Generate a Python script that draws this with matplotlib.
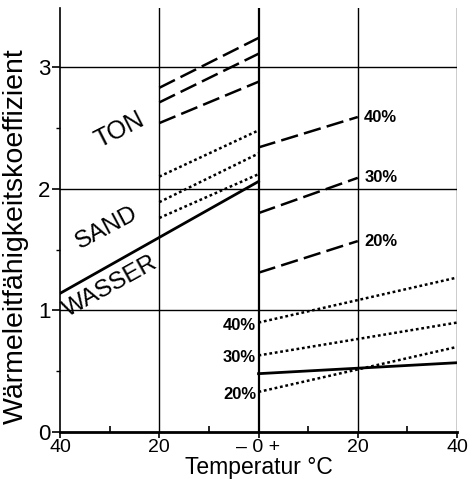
import matplotlib.pyplot as plt
from matplotlib.ticker import MultipleLocator

#Data (left half = frozen, right half = thawed)
x_frozen = [-20, 0]
x_water_frozen = [-40, 0]
x_ton_thawed = [0, 20]
x_thawed = [0, 40]

ton_frozen = [[2.83, 3.24], [2.71, 3.11], [2.54, 2.88]]
sand_frozen = [[2.10, 2.48], [1.89, 2.29], [1.76, 2.12]]
water_frozen = [1.14, 2.06]

ton_thawed = [[2.34, 2.59], [1.80, 2.09], [1.31, 1.57]]
sand_thawed = [[0.90, 1.27], [0.63, 0.90], [0.33, 0.70]]
water_thawed = [0.48, 0.57]

moisture = ["40%", "30%", "20%"]
tick_pos = [-40, -20, 0, 20, 40]
tick_labels = ["40", "20", "\u2013 0 +", "20", "40"]

plt.rcParams['font.family'] = ['Liberation Sans', 'DejaVu Sans']

fig = plt.figure(figsize=(4.74, 4.79), dpi=100)
ax = fig.add_axes([0.1266, 0.098, 0.8376, 0.885])

dash = (0, (7, 2.5))
dot = (0, (1.1, 1.1))
lw = 1.8
pct_font = ['Liberation Sans Narrow', 'Liberation Sans']

#grid lines
for y in [1, 2, 3]:
    ax.axhline(y, color='black', lw=1.0, zorder=1)
for x in [-20, 20, 40]:
    ax.axvline(x, color='black', lw=1.0, zorder=1)
ax.axvline(0, color='black', lw=1.6, zorder=1)

#frozen side
for vals in ton_frozen:
    ax.plot(x_frozen, vals, color='black', lw=lw, linestyle=dash)
for vals in sand_frozen:
    ax.plot(x_frozen, vals, color='black', lw=lw, linestyle=dot)
ax.plot(x_water_frozen, water_frozen, color='black', lw=2.0)

#thawed side
for vals, lab in zip(ton_thawed, moisture):
    ax.plot(x_ton_thawed, vals, color='black', lw=lw, linestyle=dash)
    ax.text(x_ton_thawed[1] + 1.3, vals[1], lab, fontsize=12, fontweight='bold',
            family=pct_font, ha='left', va='center')
for vals, lab in zip(sand_thawed, moisture):
    ax.plot(x_thawed, vals, color='black', lw=lw, linestyle=dot)
    ax.text(-0.5, vals[0] - 0.02, lab, fontsize=12, fontweight='bold',
            family=pct_font, ha='right', va='center')
ax.plot(x_thawed, water_thawed, color='black', lw=2.0)

#material labels
ax.text(-27.9, 2.48, "TON", fontsize=18, rotation=27, ha='center', va='center')
ax.text(-30.5, 1.68, "SAND", fontsize=17.5, rotation=28, ha='center', va='center')
ax.text(-29.8, 1.20, "WASSER", fontsize=17.5, rotation=29, ha='center', va='center')

ax.set_xlim(-40, 40)
ax.set_ylim(0, 3.485)
ax.set_xticks(tick_pos)
ax.set_xticklabels(tick_labels, fontsize=14)
ax.set_yticks([0, 1, 2, 3])
ax.set_yticklabels(["0", "1", "2", "3"], fontsize=16)
ax.xaxis.set_minor_locator(MultipleLocator(10))
ax.yaxis.set_minor_locator(MultipleLocator(0.5))
ax.tick_params(axis='x', which='major', direction='out', length=4, width=1.2, pad=1)
ax.tick_params(axis='x', which='minor', direction='in', length=4, width=1.2)
ax.tick_params(axis='y', which='major', direction='out', length=6, width=1.2, pad=1)
ax.tick_params(axis='y', which='minor', direction='out', length=3, width=1.0)

ax.spines['top'].set_visible(False)
ax.spines['right'].set_visible(False)
ax.spines['bottom'].set_linewidth(2.0)
ax.spines['left'].set_linewidth(1.2)

ax.set_xlabel("Temperatur \u00b0C", fontsize=16.5, labelpad=0)
ax.set_ylabel("W\u00e4rmeleitf\u00e4higkeitskoeffizient", fontsize=20.5)
ax.yaxis.set_label_coords(-0.078, 0.462)

fig.savefig("out.png", dpi=100)
